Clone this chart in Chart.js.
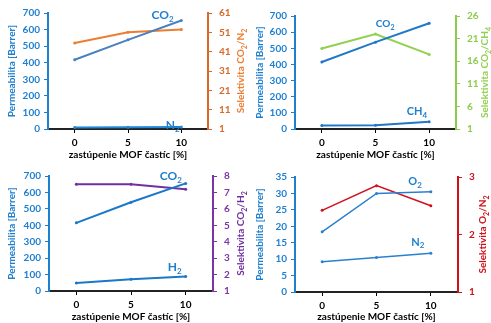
<!DOCTYPE html>
<html lang="sk">
<head>
<meta charset="utf-8">
<title>Permeabilita a selektivita</title>
<script src="https://cdn.jsdelivr.net/npm/chart.js"></script>
<style>
    html, body { margin: 0; background: #fff; }
    #wrap { position: relative; width: 491px; height: 323px; overflow: hidden; }
    #wrap canvas { position: absolute; left: 0; top: 0; }
</style>
</head>
<body>
<div id="wrap">
    <canvas id="c1" width="491" height="323"></canvas>
    <canvas id="c2" width="491" height="323"></canvas>
    <canvas id="c3" width="491" height="323"></canvas>
    <canvas id="c4" width="491" height="323"></canvas>
</div>
<script>
// x categories: MOF content [%]
const mofContent = ['0', '5', '10'];

// CO2 / N2
const co2PermA = [418, 538, 655];
const n2PermA = [9, 10, 12];
const selCo2N2 = [45.5, 51, 52.5];
const selTicksA = [1, 61, 10];

// CO2 / CH4
const co2PermB = [415, 538, 655];
const ch4PermB = [21, 23, 45];
const selCo2Ch4 = [18.8, 22, 17.5];
const selTicksB = [1, 26, 5];

// CO2 / H2
const co2PermC = [415, 540, 655];
const h2PermC = [48, 71, 88];
const selCo2H2 = [7.5, 7.5, 7.2];
const selTicksC = [1, 8, 1];

// O2 / N2
const o2PermD = [18.3, 30, 30.5];
const n2PermD = [9.2, 10.5, 11.8];
const selO2N2 = [2.42, 2.85, 2.5];
const selTicksD = [1, 3, 1];

const FONT = 'Lato';
const AXIS_BLUE = '#1f7fcf';

// "CO_2" -> [["CO", false], ["2", true]]
function splitSub(str) {
    const out = [];
    str.split(/(_\d)/).forEach(s => {
        if (!s) return;
        if (s[0] === '_') out.push([s.slice(1), true]);
        else out.push([s, false]);
    });
    return out;
}

function drawRich(ctx, str, x, y, size, color, rot) {
    const parts = splitSub(str);
    const mainFont = `bold ${size}px ${FONT}`;
    const subFont = `bold ${Math.round(size * 0.7)}px ${FONT}`;
    ctx.save();
    ctx.translate(x, y);
    ctx.rotate(rot || 0);
    ctx.fillStyle = color;
    ctx.textBaseline = 'middle';
    ctx.textAlign = 'left';
    let w = 0;
    parts.forEach(p => { ctx.font = p[1] ? subFont : mainFont; w += ctx.measureText(p[0]).width; });
    let cx = -w / 2;
    parts.forEach(p => {
        ctx.font = p[1] ? subFont : mainFont;
        ctx.fillText(p[0], cx, p[1] ? size * 0.35 : 0);
        cx += ctx.measureText(p[0]).width;
    });
    ctx.restore();
}

// series names and the rotated right-hand title
Chart.register({
    id: 'extraText',
    afterDraw(chart, args, opts) {
        const ctx = chart.ctx;
        const xs = chart.scales.x, ys = chart.scales.y;
        (opts.labels || []).forEach(l => {
            drawRich(ctx, l.text, xs.getPixelForValue(l.at[0]), ys.getPixelForValue(l.at[1]), l.size, AXIS_BLUE, 0);
        });
        if (opts.rightTitle) {
            const a = chart.chartArea;
            const t = opts.rightTitle;
            drawRich(ctx, t.text, t.x, (a.top + a.bottom) / 2, 10, t.color, -Math.PI / 2);
        }
    }
});

function tickFont() { return { family: FONT, weight: 'bold', size: 10 }; }

function makePanel(id, p) {
    const datasets = [
        { data: p.a, yAxisID: 'y', borderColor: p.aColor, backgroundColor: p.aColor, borderWidth: p.lw, pointRadius: 1.5, pointBorderWidth: 0, tension: 0 },
        { data: p.b, yAxisID: 'y', borderColor: p.bColor, backgroundColor: p.bColor, borderWidth: p.lw, pointRadius: 1.5, pointBorderWidth: 0, tension: 0 },
        { data: p.sel, yAxisID: 'y2', borderColor: p.selColor, backgroundColor: p.selColor, borderWidth: p.lw, pointRadius: 1.5, pointBorderWidth: 0, tension: 0 }
    ];
    new Chart(document.getElementById(id), {
        type: 'line',
        data: { labels: mofContent, datasets },
        options: {
            responsive: false,
            animation: false,
            layout: { padding: p.pad },
            plugins: {
                legend: { display: false },
                tooltip: { enabled: false },
                extraText: { labels: p.labels, rightTitle: { text: p.selTitle, color: p.selColor, x: p.titleX } }
            },
            scales: {
                x: {
                    offset: true,
                    grid: { display: true, drawOnChartArea: false, color: '#000', tickLength: 4 },
                    border: { color: '#222', width: 2 },
                    ticks: { color: '#000', font: tickFont(), padding: 4 },
                    title: { display: true, text: 'zastúpenie MOF častíc [%]', color: '#000', font: tickFont(), padding: 0 },
                    afterFit: s => { s.height = p.xH; }
                },
                y: {
                    position: 'left',
                    min: 0, max: p.yMax,
                    grid: { display: true, drawOnChartArea: false, color: AXIS_BLUE, tickLength: 4 },
                    border: { color: AXIS_BLUE, width: 2 },
                    ticks: { stepSize: p.yStep, color: AXIS_BLUE, font: tickFont(), padding: 4 },
                    title: { display: true, text: 'Permeabilita [Barrer]', color: AXIS_BLUE, font: tickFont(), padding: { top: 6, bottom: 0 } },
                    afterFit: s => { s.width = p.yW; }
                },
                y2: {
                    position: 'right',
                    min: p.selTicks[0], max: p.selTicks[1],
                    grid: { display: true, drawOnChartArea: false, color: p.selAxis, tickLength: 4 },
                    border: { color: p.selAxis, width: 2 },
                    ticks: { stepSize: p.selTicks[2], color: p.selAxis, font: tickFont(), padding: 7 },
                    afterFit: s => { s.width = 30; }
                }
            }
        }
    });
}

makePanel('c1', {
    a: co2PermA, b: n2PermA, sel: selCo2N2, selTicks: selTicksA,
    aColor: '#4a80c0', bColor: '#1f88d8', selColor: '#ed7d31', selAxis: '#d8692a', lw: 2,
    yMax: 700, yStep: 100, yW: 48, xH: 32,
    pad: { left: 0, right: 253, top: 13, bottom: 162 },
    selTitle: 'Selektivita CO_2/N_2', titleX: 241,
    labels: [{ text: 'CO_2', at: [1.65, 688], size: 12 }, { text: 'N_2', at: [1.84, 24], size: 12 }]
});

makePanel('c2', {
    a: co2PermB, b: ch4PermB, sel: selCo2Ch4, selTicks: selTicksB,
    aColor: '#1f78c8', bColor: '#1f78c8', selColor: '#92d050', selAxis: '#8ccc4c', lw: 2,
    yMax: 700, yStep: 100, yW: 47, xH: 32,
    pad: { left: 248, right: 5, top: 16, bottom: 162 },
    selTitle: 'Selektivita CO_2/CH_4', titleX: 485,
    labels: [{ text: 'CO_2', at: [1.18, 649], size: 10 }, { text: 'CH_4', at: [1.77, 111], size: 11 }]
});

makePanel('c3', {
    a: co2PermC, b: h2PermC, sel: selCo2H2, selTicks: selTicksC,
    aColor: '#1a78c8', bColor: '#1a78c8', selColor: '#7030a0', selAxis: '#7a35a8', lw: 2,
    yMax: 700, yStep: 100, yW: 49, xH: 32,
    pad: { left: 0, right: 248, top: 176, bottom: 0 },
    selTitle: 'Selektivita CO_2/H_2', titleX: 241,
    labels: [{ text: 'CO_2', at: [1.73, 698], size: 12 }, { text: 'H_2', at: [1.8, 146], size: 12 }]
});

makePanel('c4', {
    a: o2PermD, b: n2PermD, sel: selO2N2, selTicks: selTicksD,
    aColor: '#2a80d0', bColor: '#2a80d0', selColor: '#d0111b', selAxis: '#d0111b', lw: 1.5,
    yMax: 35, yStep: 5, yW: 47, xH: 31,
    pad: { left: 248, right: 3, top: 177, bottom: 0 },
    selTitle: 'Selektivita O_2/N_2', titleX: 483,
    labels: [{ text: 'O_2', at: [1.71, 33.6], size: 11 }, { text: 'N_2', at: [1.76, 15.2], size: 11 }]
});
</script>
</body>
</html>
